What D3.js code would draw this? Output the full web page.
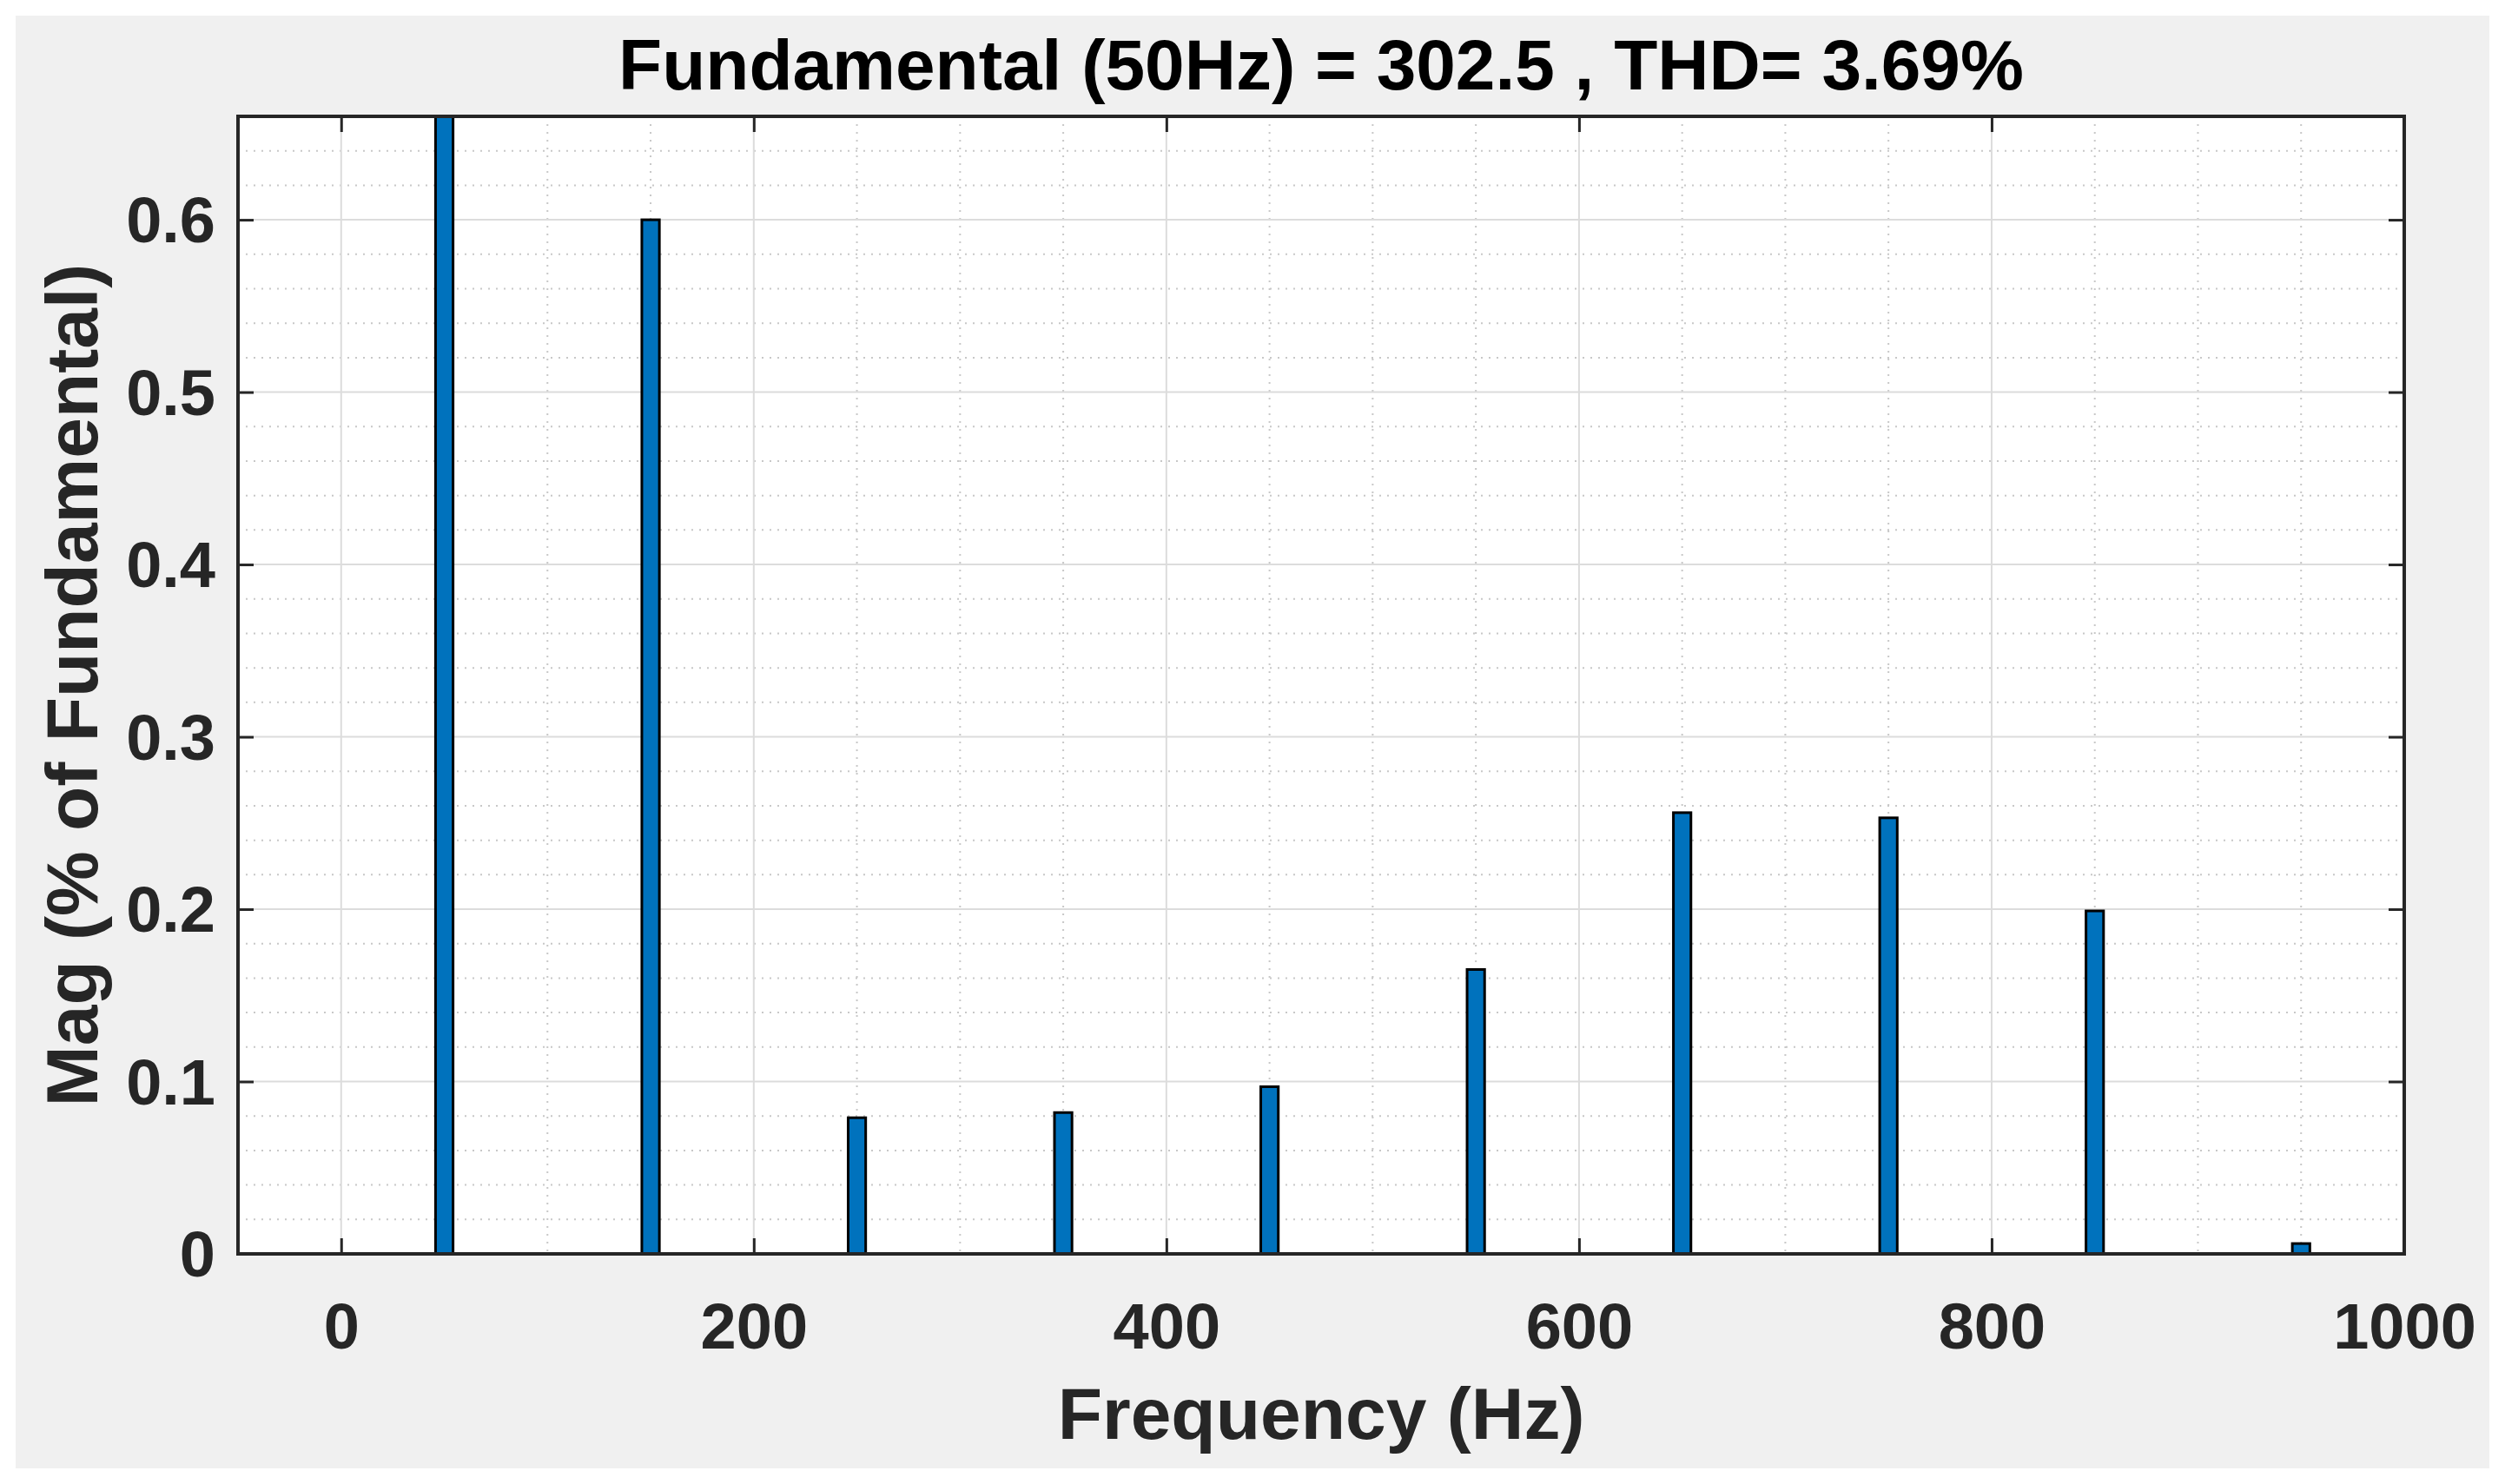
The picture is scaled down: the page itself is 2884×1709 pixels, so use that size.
<!DOCTYPE html>
<html><head><meta charset="utf-8">
<script src="https://cdn.jsdelivr.net/npm/d3@7"></script>
<style>body{margin:0;background:#fff}svg{display:block}</style>
</head><body>
<script>
const freqs = [50,150,250,350,450,550,650,750,850,950];
const mags = [100,0.6,0.079,0.082,0.097,0.165,0.256,0.253,0.199,0.006];
const xTicks = [0,200,400,600,800,1000];
const yTicks = [0,0.1,0.2,0.3,0.4,0.5,0.6];
const title = "Fundamental (50Hz) = 302.5 , THD= 3.69%";

const W=2884,H=1709;
const m={l:274,r:2768,t:134,b:1444};
const svg=d3.select("body").append("svg").attr("width",W).attr("height",H);
svg.append("rect").attr("x",18).attr("y",18).attr("width",W-36).attr("height",H-36).attr("fill","#f0f0f0");
const x=d3.scaleLinear().domain([-50,1000]).range([m.l,m.r]);
const y=d3.scaleLinear().domain([0,0.66]).range([m.b,m.t]);
svg.append("rect").attr("x",m.l).attr("y",m.t).attr("width",m.r-m.l).attr("height",m.b-m.t).attr("fill","#fff");
const g=svg.append("g");
d3.range(-50,1001,50).filter(v=>v%200!==0).forEach(v=>g.append("line").attr("x1",x(v)).attr("x2",x(v)).attr("y1",m.t).attr("y2",m.b).attr("stroke","#c8c8c8").attr("stroke-width",2).attr("stroke-dasharray","2,7"));
d3.range(0,0.661,0.02).forEach(v=>{if(Math.abs(v*10-Math.round(v*10))>1e-6) g.append("line").attr("y1",y(v)).attr("y2",y(v)).attr("x1",m.l).attr("x2",m.r).attr("stroke","#c8c8c8").attr("stroke-width",2).attr("stroke-dasharray","2,7");});
xTicks.forEach(v=>g.append("line").attr("x1",x(v)).attr("x2",x(v)).attr("y1",m.t).attr("y2",m.b).attr("stroke","#dcdcdc").attr("stroke-width",2));
yTicks.forEach(v=>g.append("line").attr("y1",y(v)).attr("y2",y(v)).attr("x1",m.l).attr("x2",m.r).attr("stroke","#dcdcdc").attr("stroke-width",2));
const bw=x(8.5)-x(0);
svg.append("clipPath").attr("id","c").append("rect").attr("x",m.l).attr("y",m.t).attr("width",m.r-m.l).attr("height",m.b-m.t);
svg.append("g").attr("clip-path","url(#c)").selectAll("rect").data(freqs).join("rect")
 .attr("x",(d)=>x(d)-bw/2).attr("width",bw)
 .attr("y",(d,i)=>y(mags[i])).attr("height",(d,i)=>m.b-y(mags[i]))
 .attr("fill","#0072bd").attr("stroke","#000").attr("stroke-width",3);
const F="Liberation Sans, Arial, sans-serif";
const ax=d3.axisBottom(x).tickValues(xTicks).tickSizeInner(-18).tickSizeOuter(0).tickPadding(56).tickFormat(d3.format("d"));
const xa=svg.append("g").attr("transform",`translate(0,${m.b})`).call(ax);
const xt=svg.append("g").attr("transform",`translate(0,${m.t})`).call(d3.axisTop(x).tickValues(xTicks).tickSizeInner(-18).tickSizeOuter(0).tickFormat(""));
const ay=d3.axisLeft(y).tickValues(yTicks).tickSizeInner(-18).tickSizeOuter(0).tickPadding(26).tickFormat(d=>d===0?"0":d3.format(".1f")(d));
const ya=svg.append("g").attr("transform",`translate(${m.l},0)`).call(ay);
const yr=svg.append("g").attr("transform",`translate(${m.r},0)`).call(d3.axisRight(y).tickValues(yTicks).tickSizeInner(-18).tickSizeOuter(0).tickFormat(""));
[xa,xt,ya,yr].forEach(a=>{a.attr("font-size",null).attr("font-family",null);a.selectAll("path").remove();a.selectAll("line").attr("stroke","#262626").attr("stroke-width",3);
 a.selectAll("text").attr("fill","#262626").style("font-family",F).style("font-weight","bold").style("font-size","74px");});
xa.selectAll("text").attr("dy","0.71em");
ya.selectAll("text").attr("dy","0.35em");
svg.append("rect").attr("x",m.l).attr("y",m.t).attr("width",m.r-m.l).attr("height",m.b-m.t).attr("fill","none").attr("stroke","#262626").attr("stroke-width",4);
svg.append("text").attr("x",(m.l+m.r)/2).attr("y",103).attr("text-anchor","middle").style("font-family",F).style("font-weight","bold").style("font-size","82px").attr("fill","#000").text(title);
svg.append("text").attr("x",(m.l+m.r)/2).attr("y",1657).attr("text-anchor","middle").style("font-family",F).style("font-weight","bold").style("font-size","84px").attr("fill","#262626").text("Frequency (Hz)");
svg.append("text").attr("transform",`translate(112,${(m.t+m.b)/2}) rotate(-90)`).attr("text-anchor","middle").style("font-family",F).style("font-weight","bold").style("font-size","84px").attr("fill","#262626").text("Mag (% of Fundamental)");
</script></body></html>
